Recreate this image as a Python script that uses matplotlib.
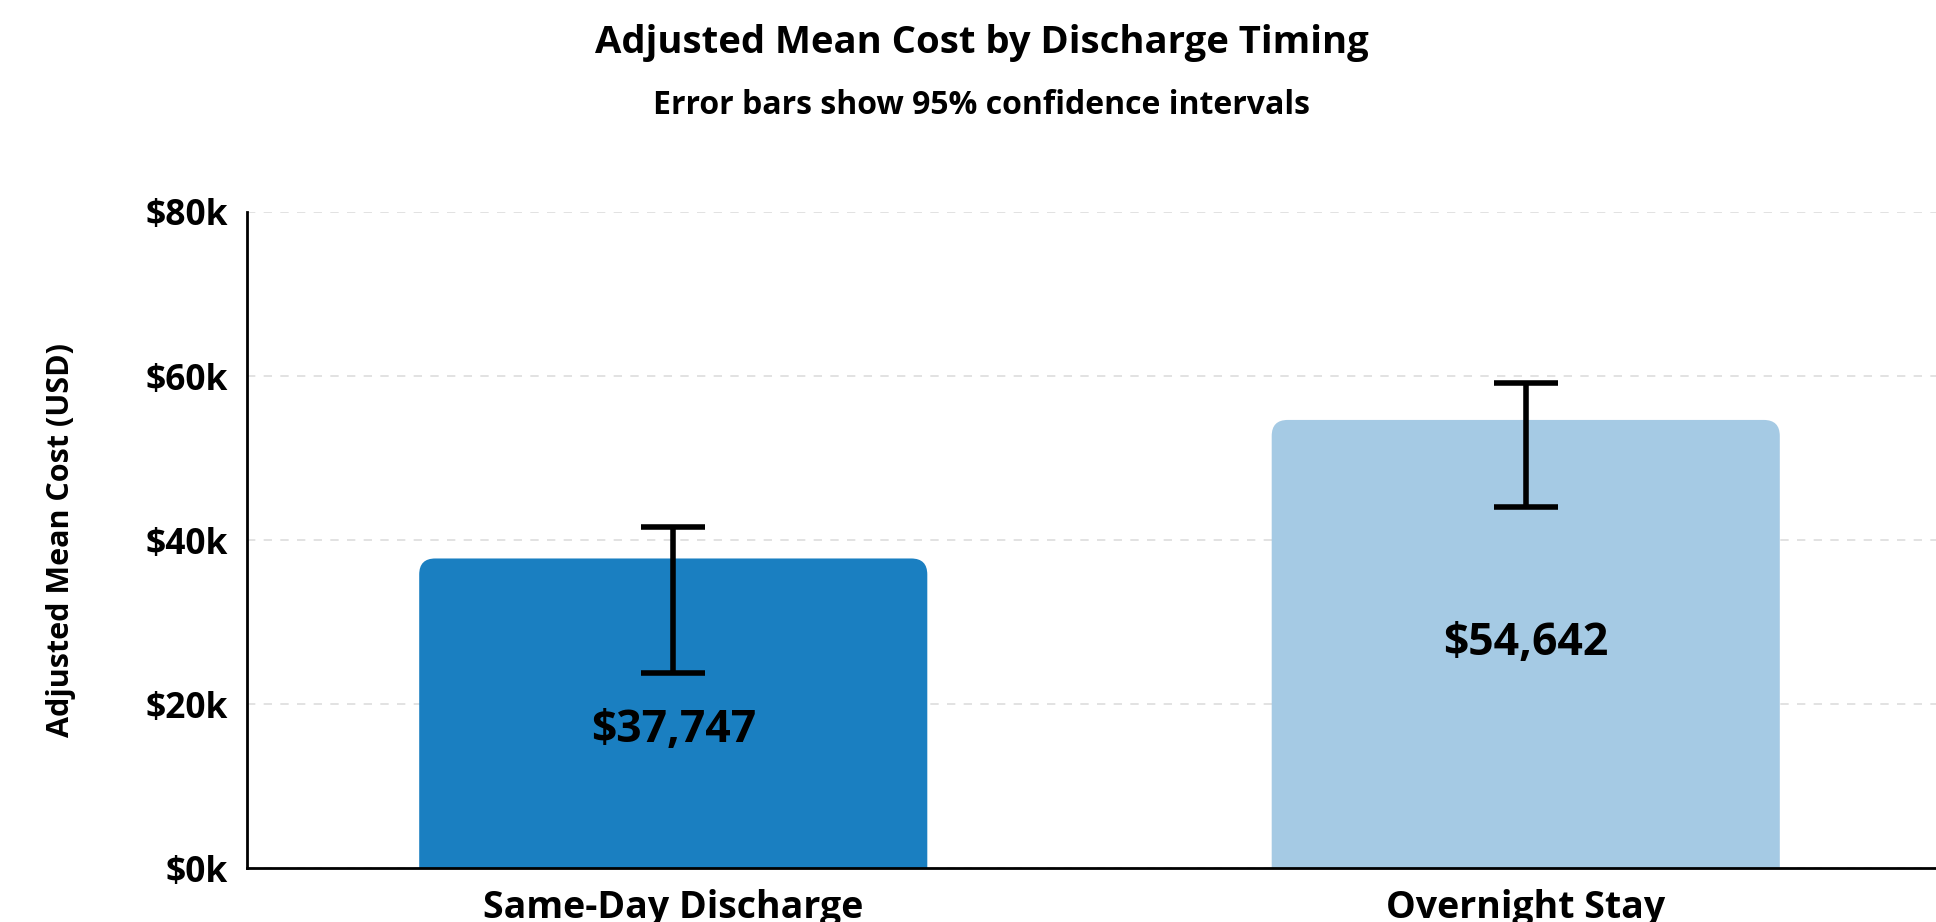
import numpy as np
import matplotlib.pyplot as plt
from matplotlib.patches import FancyBboxPatch

# Data
categories = ["Same-Day Discharge", "Overnight Stay"]
mean_cost = [37747, 54642]
ci_low = [23800, 44000]
ci_high = [41600, 59200]
bar_colors = ["#1a7fc1", "#a5cae4"]

plt.rcParams['font.family'] = ['Open Sans', 'DejaVu Sans']

W, H = 1936, 922
fig = plt.figure(figsize=(W / 100, H / 100), dpi=100)
ax = fig.add_axes([247 / W, 1 - 868 / H, (1952 - 247) / W, (868 - 212) / H])

x = np.arange(len(categories))
bars = ax.bar(x, mean_cost, width=0.596, color=bar_colors, zorder=2)
ax.set_xlim(-0.5, 1.5)
ax.set_ylim(0, 80000)

# rounded top corners: swap each rectangle for a rounded box
px_x = (1952 - 247) / 2.0          # pixels per x unit
px_y = (868 - 212) / 80000.0       # pixels per dollar
r = 16 / px_x
aspect = (1 / px_y) / (1 / px_x)
for b in bars:
    bx, by = b.get_x(), b.get_y()
    bw, bh = b.get_width(), b.get_height()
    ext = r * aspect
    p = FancyBboxPatch((bx, by - ext), bw, bh + ext,
                       boxstyle="round,pad=0,rounding_size=%f" % r,
                       mutation_aspect=aspect,
                       facecolor=b.get_facecolor(), edgecolor="none",
                       zorder=2, clip_on=True)
    ax.add_patch(p)
    b.set_visible(False)

yerr = [np.array(mean_cost) - np.array(ci_low), np.array(ci_high) - np.array(mean_cost)]
ax.errorbar(x, mean_cost, yerr=yerr, fmt="none", ecolor="black",
            elinewidth=4, capsize=23, capthick=4, zorder=3)

# value labels inside bars
label_frac = [0.445, 0.50]
for xi, v, f in zip(x, mean_cost, label_frac):
    ax.text(xi, v * f, "${:,}".format(v), ha="center", va="center",
            fontsize=32, fontweight="bold", color="black", zorder=4)

ax.set_yticks(np.arange(0, 80001, 20000))
ax.set_yticklabels(["${}k".format(int(t / 1000)) for t in ax.get_yticks()])
ax.set_xticks(x)
ax.set_xticklabels(categories)
ax.tick_params(axis="y", length=0, pad=14, labelsize=25.5)
ax.tick_params(axis="x", length=0, pad=15, labelsize=27)
for lab in ax.get_yticklabels() + ax.get_xticklabels():
    lab.set_fontweight("bold")

ax.grid(axis="y", linestyle=(0, (5, 5)), color="#dddddd", linewidth=1.2, zorder=0)
ax.set_axisbelow(True)
for s in ["top", "right"]:
    ax.spines[s].set_visible(False)
ax.spines["left"].set_linewidth(2)
ax.spines["bottom"].set_linewidth(2)

ax.set_ylabel("Adjusted Mean Cost (USD)", fontsize=22, fontweight="bold", labelpad=50)

fig.text(0.507, 1 - 43 / H, "Adjusted Mean Cost by Discharge Timing",
         ha="center", va="center", fontsize=27.5, fontweight="bold")
fig.text(0.507, 1 - 105 / H, "Error bars show 95% confidence intervals",
         ha="center", va="center", fontsize=23, fontweight="bold")

fig.savefig("out.png", dpi=100)
